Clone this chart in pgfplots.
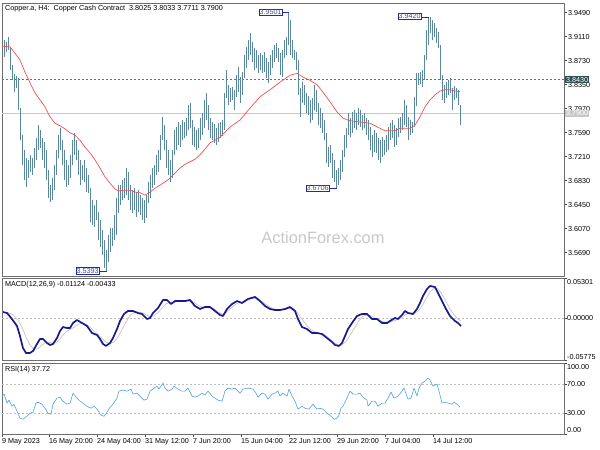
\documentclass[border=0pt]{standalone}
\usepackage{fontspec}
\setmainfont{Liberation Sans}
\usepackage{pgfplots}
\usepackage{pgfplotstable}
\pgfplotsset{compat=1.18}

\definecolor{barc}{RGB}{90,134,158}
\definecolor{mac}{RGB}{240,80,80}
\definecolor{framec}{RGB}{110,110,110}
\definecolor{tickc}{RGB}{70,70,70}
\definecolor{macd}{RGB}{25,25,140}
\definecolor{sig}{RGB}{195,195,195}
\definecolor{rsic}{RGB}{80,160,240}
\definecolor{dashc}{RGB}{190,190,190}
\definecolor{lvl}{RGB}{110,110,110}
\definecolor{boxc}{RGB}{40,40,170}
\definecolor{boxt}{RGB}{70,80,160}
\definecolor{darkbox}{RGB}{47,79,79}
\definecolor{lightbox}{RGB}{200,200,200}
\definecolor{wm}{RGB}{200,200,200}
\newcommand\sm{\fontsize{7.2}{8}\selectfont}

% OHLC high/low per H4 bar
\pgfplotstableread{
x l h
4 3.879 3.906
6 3.887 3.903
8 3.890 3.911
10 3.858 3.893
12 3.842 3.866
14 3.823 3.852
16 3.830 3.849
18 3.795 3.846
20 3.747 3.798
22 3.708 3.755
24 3.684 3.732
26 3.673 3.719
28 3.687 3.716
30 3.697 3.724
32 3.692 3.719
34 3.703 3.735
36 3.716 3.751
38 3.732 3.771
40 3.735 3.763
42 3.716 3.751
44 3.703 3.744
46 3.684 3.732
48 3.656 3.700
50 3.649 3.676
52 3.652 3.687
54 3.668 3.708
56 3.692 3.732
58 3.719 3.755
60 3.732 3.766
62 3.708 3.747
64 3.684 3.732
66 3.673 3.716
68 3.676 3.708
70 3.687 3.724
72 3.708 3.747
74 3.724 3.759
76 3.716 3.747
78 3.692 3.732
80 3.676 3.716
82 3.684 3.708
84 3.681 3.716
86 3.665 3.703
88 3.664 3.692
90 3.618 3.671
92 3.613 3.652
94 3.610 3.645
96 3.621 3.652
98 3.589 3.633
100 3.578 3.621
102 3.565 3.605
104 3.545 3.589
106 3.5393 3.573
108 3.554 3.597
110 3.570 3.608
112 3.580 3.608
114 3.589 3.629
116 3.597 3.656
118 3.632 3.676
120 3.645 3.676
122 3.652 3.684
124 3.656 3.687
126 3.660 3.703
128 3.652 3.697
130 3.637 3.676
132 3.632 3.668
134 3.637 3.671
136 3.626 3.665
138 3.633 3.668
140 3.629 3.660
142 3.621 3.656
144 3.616 3.652
146 3.624 3.660
148 3.648 3.681
150 3.656 3.692
152 3.671 3.703
154 3.676 3.708
156 3.692 3.724
158 3.697 3.732
160 3.716 3.755
162 3.747 3.784
164 3.732 3.771
166 3.703 3.747
168 3.692 3.732
170 3.681 3.716
172 3.687 3.732
174 3.724 3.763
176 3.732 3.768
178 3.740 3.776
180 3.736 3.771
182 3.747 3.779
184 3.751 3.776
186 3.754 3.782
188 3.763 3.803
190 3.766 3.806
192 3.740 3.779
194 3.736 3.768
196 3.732 3.763
198 3.735 3.766
200 3.747 3.782
202 3.755 3.790
204 3.766 3.811
206 3.779 3.822
208 3.763 3.803
210 3.751 3.782
212 3.747 3.776
214 3.743 3.773
216 3.740 3.766
218 3.744 3.774
220 3.751 3.776
222 3.754 3.779
224 3.763 3.822
226 3.814 3.858
228 3.803 3.835
230 3.808 3.830
232 3.811 3.831
234 3.795 3.827
236 3.816 3.850
238 3.823 3.863
240 3.806 3.847
242 3.819 3.855
244 3.846 3.882
246 3.861 3.895
248 3.874 3.906
250 3.882 3.917
252 3.871 3.903
254 3.858 3.893
256 3.861 3.890
258 3.853 3.882
260 3.858 3.885
262 3.853 3.882
264 3.855 3.887
266 3.846 3.877
268 3.838 3.871
270 3.850 3.882
272 3.861 3.890
274 3.871 3.898
276 3.877 3.901
278 3.871 3.893
280 3.850 3.885
282 3.847 3.890
284 3.877 3.906
286 3.882 3.911
288 3.898 3.9501
290 3.882 3.937
292 3.877 3.906
294 3.874 3.890
296 3.858 3.887
298 3.819 3.874
300 3.784 3.830
302 3.806 3.839
304 3.803 3.835
306 3.790 3.822
308 3.787 3.817
310 3.774 3.811
312 3.779 3.814
314 3.795 3.835
316 3.792 3.827
318 3.771 3.806
320 3.766 3.798
322 3.759 3.790
324 3.747 3.779
326 3.711 3.759
328 3.705 3.736
330 3.711 3.740
332 3.687 3.727
334 3.681 3.716
336 3.6706 3.700
338 3.676 3.703
340 3.684 3.716
342 3.697 3.732
344 3.721 3.755
346 3.735 3.766
348 3.755 3.790
350 3.752 3.782
352 3.759 3.792
354 3.766 3.795
356 3.763 3.790
358 3.771 3.798
360 3.768 3.795
362 3.763 3.787
364 3.766 3.790
366 3.755 3.782
368 3.747 3.779
370 3.732 3.768
372 3.721 3.755
374 3.728 3.763
376 3.727 3.759
378 3.716 3.751
380 3.711 3.747
382 3.721 3.752
384 3.724 3.747
386 3.728 3.755
388 3.732 3.768
390 3.747 3.774
392 3.751 3.779
394 3.736 3.771
396 3.740 3.766
398 3.752 3.782
400 3.759 3.784
402 3.763 3.790
404 3.771 3.811
406 3.768 3.803
408 3.747 3.784
410 3.755 3.779
412 3.759 3.776
414 3.768 3.816
416 3.802 3.853
418 3.835 3.853
420 3.836 3.855
422 3.831 3.858
424 3.842 3.882
426 3.874 3.922
428 3.898 3.942
430 3.917 3.942
432 3.906 3.937
434 3.911 3.933
436 3.901 3.925
438 3.893 3.918
440 3.842 3.898
442 3.811 3.850
444 3.806 3.835
446 3.814 3.839
448 3.819 3.842
450 3.822 3.846
452 3.795 3.830
454 3.811 3.833
456 3.814 3.830
458 3.803 3.827
460 3.7711 3.8033
}\bars

% moving average
\pgfplotstableread{
x y
2 3.896
10 3.895
15 3.885
20 3.874
25 3.855
30 3.838
35 3.822
40 3.811
45 3.800
50 3.784
55 3.774
60 3.770
65 3.765
70 3.759
75 3.755
80 3.747
85 3.736
90 3.727
95 3.716
100 3.703
105 3.689
110 3.679
115 3.670
118 3.667
125 3.668
130 3.668
135 3.665
140 3.664
145 3.660
150 3.665
155 3.671
160 3.676
165 3.681
170 3.687
175 3.695
180 3.703
185 3.709
190 3.713
195 3.717
200 3.724
205 3.733
210 3.743
215 3.747
220 3.752
225 3.760
230 3.768
240 3.779
250 3.798
260 3.816
270 3.827
280 3.839
290 3.850
297 3.853
303 3.847
310 3.842
317 3.835
323 3.823
330 3.808
337 3.792
343 3.782
350 3.778
360 3.776
370 3.774
375 3.770
380 3.766
385 3.762
395 3.762
400 3.766
410 3.766
415 3.771
420 3.784
425 3.800
430 3.811
435 3.819
440 3.825
445 3.827
450 3.827
455 3.825
460 3.824
}\ma

\pgfplotstableread{
x y
3 0.0078
7 0.0064
12 -0.0017
17 -0.0112
20 -0.0248
23 -0.0411
26 -0.0478
30 -0.0478
33 -0.0451
37 -0.0356
40 -0.0288
43 -0.0288
47 -0.0343
50 -0.0370
53 -0.0356
57 -0.0275
60 -0.0180
63 -0.0126
67 -0.0139
70 -0.0139
73 -0.0071
77 -0.0031
82 -0.0071
87 -0.0112
92 -0.0207
97 -0.0234
100 -0.0288
103 -0.0356
106 -0.0383
110 -0.0343
113 -0.0275
117 -0.0153
120 -0.0044
124 0.0051
128 0.0092
133 0.0092
138 0.0064
142 0.0051
147 -0.0017
150 -0.0003
153 0.0064
158 0.0132
163 0.0241
167 0.0241
171 0.0186
175 0.0227
180 0.0227
185 0.0227
190 0.0241
195 0.0159
200 0.0119
205 0.0146
210 0.0146
215 0.0092
220 0.0037
223 0.0024
227 0.0119
232 0.0186
237 0.0227
242 0.0200
248 0.0255
255 0.0282
260 0.0227
265 0.0159
270 0.0119
275 0.0105
280 0.0105
285 0.0119
290 0.0146
295 0.0092
298 -0.0017
302 -0.0126
307 -0.0153
312 -0.0207
317 -0.0207
322 -0.0221
327 -0.0275
332 -0.0329
335 -0.0370
339 -0.0383
342 -0.0343
345 -0.0248
348 -0.0153
352 -0.0071
357 0.0024
362 0.0051
367 0.0051
372 -0.0017
377 -0.0017
382 -0.0071
387 -0.0071
390 -0.0044
395 -0.0003
398 -0.0017
402 0.0037
405 0.0092
408 0.0064
413 0.0051
417 0.0119
420 0.0200
423 0.0295
427 0.0390
430 0.0431
435 0.0417
438 0.0336
442 0.0227
446 0.0119
450 0.0024
455 -0.0044
458 -0.0071
461 -0.01124
}\macdmain

\pgfplotstableread{
x y
3 0.0075
8 0.0070
13 0.0040
18 -0.0030
22 -0.0130
26 -0.0260
30 -0.0370
34 -0.0430
38 -0.0420
42 -0.0370
46 -0.0330
50 -0.0335
54 -0.0345
58 -0.0320
62 -0.0250
66 -0.0190
70 -0.0160
74 -0.0130
78 -0.0090
82 -0.0070
86 -0.0085
90 -0.0130
94 -0.0180
98 -0.0225
102 -0.0280
106 -0.0330
110 -0.0350
114 -0.0330
118 -0.0260
122 -0.0160
126 -0.0060
130 0.0030
134 0.0070
138 0.0080
142 0.0070
146 0.0040
150 0.0015
154 0.0025
158 0.0070
162 0.0130
166 0.0190
170 0.0210
174 0.0210
178 0.0220
182 0.0225
186 0.0225
190 0.0230
194 0.0210
198 0.0170
202 0.0145
206 0.0140
210 0.0140
214 0.0120
218 0.0080
222 0.0050
226 0.0070
230 0.0120
234 0.0170
238 0.0200
242 0.0210
246 0.0230
250 0.0255
254 0.0270
258 0.0260
262 0.0220
266 0.0180
270 0.0145
274 0.0120
278 0.0110
282 0.0110
286 0.0115
290 0.0125
294 0.0115
298 0.0060
302 -0.0020
306 -0.0090
310 -0.0150
314 -0.0190
318 -0.0205
322 -0.0215
326 -0.0245
330 -0.0290
334 -0.0335
338 -0.0370
342 -0.0370
346 -0.0320
350 -0.0240
354 -0.0150
358 -0.0060
362 0.0010
366 0.0040
370 0.0030
374 0.0005
378 -0.0025
382 -0.0050
386 -0.0065
390 -0.0060
394 -0.0040
398 -0.0025
402 0.0005
406 0.0050
410 0.0065
414 0.0060
418 0.0085
422 0.0160
426 0.0260
430 0.0350
434 0.0400
438 0.0390
442 0.0320
446 0.0220
450 0.0120
454 0.0040
458 -0.0020
461 -0.00433
}\macdsig

\pgfplotstableread{
x y
2 53.6
4 56.4
7 43.6
9 47.9
12 39.3
14 42.2
17 32.2
20 22.3
23 20.9
27 25.1
30 29.4
33 30.8
36 43.6
38 45.0
42 42.2
45 36.5
48 29.4
51 28.0
53 42.2
57 50.7
60 52.1
63 46.4
67 42.2
70 43.6
73 57.8
77 50.7
80 46.4
83 43.6
87 39.3
91 36.5
94 39.3
97 35.1
101 26.6
104 25.1
107 30.8
110 37.9
113 42.2
117 50.7
119 60.7
123 62.1
127 60.7
131 63.5
133 56.4
137 57.8
140 53.6
144 47.9
147 49.3
150 60.7
153 63.5
157 67.8
159 63.5
163 72.0
165 64.9
168 60.7
172 63.5
174 67.8
178 63.5
182 60.7
185 60.7
188 64.9
192 53.6
195 52.1
198 53.6
202 57.8
205 55.0
208 60.7
212 53.6
215 50.7
218 47.9
222 46.4
225 60.7
228 64.9
232 63.5
235 64.9
238 60.7
240 57.8
243 63.5
248 64.9
253 63.5
256 57.8
258 52.1
262 57.8
265 56.4
268 49.3
272 56.4
275 57.8
278 60.7
280 53.6
283 57.8
287 53.6
289 63.5
292 53.6
295 46.4
298 35.1
302 39.3
305 36.5
309 35.1
313 42.2
317 35.1
320 36.5
323 35.1
327 29.4
330 26.6
334 20.9
337 22.3
339 26.6
341 36.5
343 39.3
347 50.7
350 60.7
353 56.4
357 56.4
360 57.8
363 52.1
367 47.9
368 39.3
372 46.4
375 46.4
378 39.3
382 43.6
385 43.6
388 50.7
391 59.2
394 50.7
398 53.6
402 60.7
404 64.9
408 49.3
411 50.7
414 64.9
417 53.6
419 64.9
422 72.0
425 74.9
428 79.1
430 76.3
433 67.8
437 70.6
439 60.7
442 43.6
445 45.0
448 43.6
452 42.2
454 45.0
457 42.2
460 37.72
}\rsi

\begin{document}
\begin{tikzpicture}
\path[use as bounding box] (0pt,0pt) rectangle (600pt,450pt);
\pgfplotsset{panel/.style={
  scale only axis, width=562pt, xmin=2, xmax=564, clip=false,
  axis line style={draw=framec, line width=0.8pt},
  xtick=\empty, ytick pos=right, tick align=outside,
  major tick length=3pt, tick style={draw=tickc, line width=0.5pt},
  yticklabel style={font=\sm, anchor=west, inner sep=1pt},
  xticklabel style={font=\sm}, scaled y ticks=false,
  /pgf/number format/assume math mode=true}}

% ---- price panel
\begin{axis}[panel, at={(2pt,447pt)}, anchor=north west, height=273pt,
  ymin=3.5321, ymax=3.9644,
  ytick={3.5690,3.6070,3.6450,3.6830,3.7210,3.7590,3.7970,3.8350,3.8730,3.9110,3.9490},
  yticklabel={\pgfmathprintnumber[fixed,fixed zerofill,precision=4]{\tick}}]
\addplot[lightbox, line width=0.8pt] coordinates {(2,3.7900) (564,3.7900)};
\addplot[lvl, line width=0.7pt, dash pattern=on 2pt off 2pt] coordinates {(2,3.8430) (564,3.8430)};
\node[text=wm, font=\fontsize{16.4}{18}\selectfont] at (axis cs:323,3.5923) {ActionForex.com};
\addplot[draw=none, mark=none, forget plot,
  error bars/.cd, y dir=plus, y explicit, error mark=none,
  error bar style={draw=barc, line width=0.95pt}]
  table[x=x, y=l, y error expr=\thisrow{h}-\thisrow{l}] {\bars};
\addplot[mac, line width=0.7pt, line join=round] table {\ma};
% high / low labels
\draw[boxc, line width=0.5pt] (axis cs:282,3.9501) -- (axis cs:288.5,3.9501);
\node[draw=boxc, fill=white, text=boxt, font=\sm, inner sep=0.6pt, line width=0.5pt, anchor=east] at (axis cs:282.5,3.9501) {3.9501};
\draw[boxc, line width=0.5pt] (axis cs:99,3.5393) -- (axis cs:106.5,3.5393);
\node[draw=boxc, fill=white, text=boxt, font=\sm, inner sep=0.6pt, line width=0.5pt, anchor=east] at (axis cs:99.5,3.5405) {3.5393};
\draw[boxc, line width=0.5pt] (axis cs:329,3.6706) -- (axis cs:336.5,3.6706);
\node[draw=boxc, fill=white, text=boxt, font=\sm, inner sep=0.6pt, line width=0.5pt, anchor=east] at (axis cs:329.5,3.6712) {3.6706};
\draw[boxc, line width=0.5pt] (axis cs:421,3.9420) -- (axis cs:428.5,3.9420);
\node[draw=boxc, fill=white, text=boxt, font=\sm, inner sep=0.6pt, line width=0.5pt, anchor=east] at (axis cs:421.5,3.9430) {3.9420};
% price tags on the scale
\node[fill=darkbox, text=white, font=\sm, inner sep=1pt, anchor=west] at (axis cs:565,3.8430) {3.8430};
\node[fill=lightbox, text=white, font=\sm, inner sep=1pt, anchor=west] at (axis cs:565,3.7900) {3.7900};
\node[anchor=north west, font=\sm, inner sep=0pt] at (rel axis cs:0,1) [xshift=3pt, yshift=-2pt]
  {Copper.a, H4:\ \ Copper Cash Contract\ \ 3.8025 3.8033 3.7711 3.7900};
\end{axis}

% ---- MACD panel
\begin{axis}[panel, at={(2pt,171.3pt)}, anchor=north west, height=81.6pt,
  ymin=-0.05775, ymax=0.05301, ytick={-0.05775,0,0.05301}, yticklabels={,,}]
\addplot[dashc, line width=0.5pt, dash pattern=on 2pt off 2pt] coordinates {(2,0) (564,0)};
\addplot[sig, line width=0.7pt, line join=round] table {\macdsig};
\addplot[macd, line width=1.7pt, line join=round] table {\macdmain};
\node[anchor=north west, font=\sm, inner sep=0pt] at (rel axis cs:0,1) [xshift=3pt, yshift=-2pt]
  {MACD(12,26,9) -0.01124 -0.00433};
\node[anchor=north west, font=\sm, inner sep=1pt] at (rel axis cs:1,1) [xshift=2pt] {0.05301};
\node[anchor=west, font=\sm, inner sep=1pt] at (rel axis cs:1,0.5213) [xshift=2pt] {0.00000};
\node[anchor=south west, font=\sm, inner sep=1pt] at (rel axis cs:1,0) [xshift=2pt] {-0.05775};
\end{axis}

% ---- RSI panel
\begin{axis}[panel, at={(2pt,86.7pt)}, anchor=north west, height=70.7pt,
  ymin=0, ymax=100, ytick={0,30,70,100}, yticklabels={,,,},
  xtick={2,49,97,145,193,241,289,337,385,433}, xtick pos=bottom,
  xticklabels={9 May 2023,16 May 20:00,24 May 04:00,31 May 12:00,7 Jun 20:00,15 Jun 04:00,22 Jun 12:00,29 Jun 20:00,7 Jul 04:00,14 Jul 12:00},
  xticklabel style={anchor=north west, inner sep=1pt, xshift=-1pt}]
\addplot[dashc, line width=0.5pt, dash pattern=on 2pt off 2pt] coordinates {(2,70) (564,70)};
\addplot[dashc, line width=0.5pt, dash pattern=on 2pt off 2pt] coordinates {(2,30) (564,30)};
\addplot[rsic, line width=0.6pt, line join=round] table {\rsi};
\node[anchor=north west, font=\sm, inner sep=0pt] at (rel axis cs:0,1) [xshift=3pt, yshift=-2.5pt]
  {RSI(14) 37.72};
\node[anchor=north west, font=\sm, inner sep=1pt] at (rel axis cs:1,1) [xshift=2pt] {100.00};
\node[anchor=west, font=\sm, inner sep=1pt] at (axis cs:564,70) [xshift=2pt] {70.00};
\node[anchor=west, font=\sm, inner sep=1pt] at (axis cs:564,30) [xshift=2pt] {30.00};
\node[anchor=south west, font=\sm, inner sep=1pt] at (rel axis cs:1,0) [xshift=2pt] {0.00};
\end{axis}
\end{tikzpicture}
\end{document}
